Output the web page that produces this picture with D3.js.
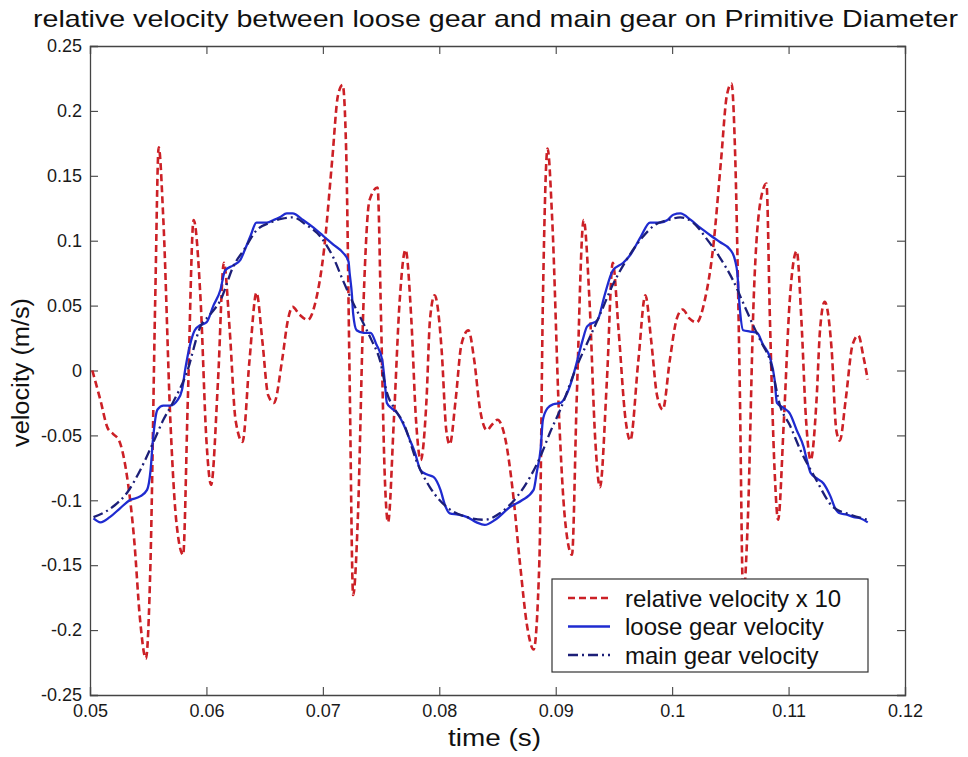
<!DOCTYPE html>
<html>
<head>
<meta charset="utf-8">
<script src="https://cdn.jsdelivr.net/npm/d3@7"></script>
<style>
  body { margin: 0; background: #fff; }
  svg { font-family: "Liberation Sans", Arial, sans-serif; }
</style>
</head>
<body>
<div id="chart"></div>
<script>

// relative velocity x 10 (red dashed)
var relTime = [0.0502,0.0509,0.0515,0.0520,0.0525,0.0531,0.0538,0.0543,0.0548,0.0552,0.0556,0.0559,0.0563,0.0569,0.0574,0.0580,0.0584,0.0589,0.0595,0.0600,0.0604,0.0610,0.0615,0.0620,0.0625,0.0631,0.0637,0.0643,0.0648,0.0653,0.0658,0.0665,0.0670,0.0674,0.0680,0.0687,0.0694,0.0701,0.0708,0.0713,0.0717,0.0720,0.0723,0.0726,0.0730,0.0735,0.0740,0.0747,0.0750,0.0753,0.0756,0.0761,0.0766,0.0771,0.0776,0.0780,0.0784,0.0789,0.0792,0.0796,0.0802,0.0806,0.0809,0.0814,0.0819,0.0825,0.0830,0.0835,0.0841,0.0845,0.0850,0.0857,0.0863,0.0869,0.0876,0.0881,0.0886,0.0889,0.0893,0.0897,0.0903,0.0908,0.0914,0.0918,0.0924,0.0929,0.0934,0.0938,0.0944,0.0949,0.0954,0.0960,0.0964,0.0971,0.0977,0.0982,0.0987,0.0992,0.0998,0.1004,0.1009,0.1015,0.1021,0.1028,0.1035,0.1042,0.1047,0.1051,0.1054,0.1058,0.1061,0.1065,0.1070,0.1076,0.1081,0.1084,0.1088,0.1091,0.1096,0.1101,0.1107,0.1111,0.1115,0.1119,0.1124,0.1127,0.1131,0.1137,0.1141,0.1144,0.1149,0.1155,0.1160,0.1164,0.1168];
var relVel = [0.000,-0.023,-0.044,-0.049,-0.054,-0.077,-0.131,-0.192,-0.222,-0.146,0.054,0.172,0.116,-0.038,-0.115,-0.142,-0.023,0.116,0.054,-0.054,-0.088,-0.007,0.083,0.031,-0.038,-0.055,0.008,0.060,0.023,-0.019,-0.025,0.008,0.039,0.049,0.043,0.039,0.054,0.093,0.162,0.212,0.220,0.170,-0.007,-0.173,-0.115,0.054,0.131,0.141,0.039,-0.077,-0.117,-0.038,0.054,0.093,0.039,-0.038,-0.069,-0.023,0.039,0.058,0.016,-0.046,-0.057,-0.023,0.020,0.031,0.008,-0.030,-0.046,-0.042,-0.038,-0.054,-0.092,-0.146,-0.200,-0.215,-0.146,0.054,0.171,0.116,-0.038,-0.115,-0.142,-0.023,0.116,0.054,-0.054,-0.090,-0.007,0.083,0.031,-0.038,-0.054,0.008,0.058,0.023,-0.019,-0.030,0.008,0.040,0.047,0.040,0.037,0.054,0.093,0.162,0.212,0.221,0.170,-0.007,-0.175,-0.115,0.054,0.131,0.144,0.039,-0.077,-0.115,-0.038,0.054,0.092,0.039,-0.038,-0.069,-0.023,0.031,0.053,0.016,-0.046,-0.054,-0.023,0.020,0.027,0.012,-0.007];

// loose gear velocity (blue solid)
var looseTime = [0.0503,0.0509,0.0517,0.0526,0.0534,0.0543,0.0549,0.0552,0.0554,0.0558,0.0563,0.0569,0.0575,0.0579,0.0582,0.0586,0.0590,0.0595,0.0600,0.0606,0.0612,0.0616,0.0623,0.0629,0.0633,0.0638,0.0643,0.0652,0.0658,0.0663,0.0669,0.0674,0.0683,0.0692,0.0700,0.0709,0.0717,0.0722,0.0723,0.0725,0.0726,0.0729,0.0735,0.0741,0.0746,0.0751,0.0753,0.0755,0.0759,0.0764,0.0769,0.0775,0.0779,0.0784,0.0789,0.0795,0.0801,0.0805,0.0809,0.0816,0.0824,0.0832,0.0839,0.0848,0.0861,0.0871,0.0881,0.0884,0.0887,0.0889,0.0893,0.0898,0.0904,0.0909,0.0914,0.0918,0.0923,0.0927,0.0936,0.0942,0.0949,0.0958,0.0964,0.0973,0.0981,0.0990,0.0996,0.1001,0.1007,0.1016,0.1024,0.1033,0.1041,0.1050,0.1054,0.1056,0.1058,0.1061,0.1067,0.1073,0.1078,0.1084,0.1088,0.1090,0.1096,0.1101,0.1107,0.1113,0.1116,0.1119,0.1124,0.1130,0.1136,0.1140,0.1144,0.1150,0.1156,0.1162,0.1168];
var looseVel = [-0.114,-0.117,-0.113,-0.106,-0.100,-0.097,-0.092,-0.077,-0.054,-0.030,-0.027,-0.027,-0.023,-0.015,0.002,0.020,0.031,0.035,0.037,0.050,0.062,0.077,0.081,0.085,0.093,0.104,0.114,0.114,0.116,0.118,0.121,0.121,0.116,0.110,0.104,0.097,0.091,0.084,0.075,0.058,0.044,0.031,0.029,0.029,0.020,0.008,-0.007,-0.025,-0.029,-0.033,-0.041,-0.054,-0.063,-0.077,-0.080,-0.082,-0.092,-0.104,-0.110,-0.111,-0.113,-0.117,-0.119,-0.115,-0.105,-0.100,-0.092,-0.077,-0.061,-0.038,-0.029,-0.026,-0.025,-0.019,-0.007,0.006,0.023,0.034,0.039,0.058,0.077,0.083,0.089,0.103,0.114,0.114,0.116,0.120,0.121,0.116,0.110,0.104,0.099,0.093,0.085,0.075,0.049,0.031,0.030,0.029,0.020,0.010,-0.007,-0.025,-0.029,-0.033,-0.046,-0.059,-0.070,-0.079,-0.083,-0.087,-0.097,-0.106,-0.110,-0.111,-0.113,-0.114,-0.117];

// main gear velocity (dark blue dash-dot)
var mainTime = [0.0503,0.0513,0.0521,0.0532,0.0543,0.0554,0.0563,0.0571,0.0583,0.0595,0.0603,0.0612,0.0623,0.0633,0.0643,0.0655,0.0665,0.0674,0.0686,0.0698,0.0709,0.0717,0.0726,0.0735,0.0742,0.0749,0.0755,0.0762,0.0769,0.0781,0.0792,0.0809,0.0824,0.0839,0.0852,0.0867,0.0878,0.0887,0.0895,0.0904,0.0918,0.0930,0.0938,0.0949,0.0960,0.0973,0.0985,0.0997,0.1007,0.1018,0.1030,0.1041,0.1052,0.1063,0.1070,0.1077,0.1084,0.1093,0.1101,0.1110,0.1123,0.1138,0.1153,0.1168];
var mainVel = [-0.113,-0.109,-0.104,-0.094,-0.077,-0.056,-0.038,-0.025,-0.002,0.034,0.043,0.054,0.080,0.094,0.108,0.114,0.117,0.118,0.112,0.103,0.087,0.070,0.052,0.036,0.023,0.008,-0.017,-0.030,-0.040,-0.071,-0.090,-0.107,-0.113,-0.115,-0.110,-0.097,-0.082,-0.066,-0.048,-0.030,0.003,0.027,0.043,0.066,0.084,0.101,0.112,0.116,0.118,0.114,0.101,0.087,0.070,0.048,0.034,0.021,0.008,-0.028,-0.042,-0.061,-0.083,-0.105,-0.111,-0.115];

var xTicks = [0.05, 0.06, 0.07, 0.08, 0.09, 0.1, 0.11, 0.12];
var yTicks = [-0.25, -0.2, -0.15, -0.1, -0.05, 0, 0.05, 0.1, 0.15, 0.2, 0.25];

var seriesNames = ["relative velocity x 10", "loose gear velocity", "main gear velocity"];
var seriesColors = ["#cc2026", "#1f2bd0", "#1c1f78"];
var seriesDash = ["7,4", null, "10,4,2,4"];

function drawChart() {

	var width = 968, height = 757;
	var margin = {left: 90, right: 63, top: 46, bottom: 62};

	var svg = d3.select("#chart")
		.append("svg")
		.attr("width", width)
		.attr("height", height);

	var x = d3.scaleLinear()
		.domain([0.05, 0.12])
		.range([margin.left, width - margin.right]);

	var y = d3.scaleLinear()
		.domain([-0.25, 0.25])
		.range([height - margin.bottom, margin.top]);

	var fmt = function(d) { return String(+d.toFixed(2)); };

	// axes, ticks pointing inward
	var bottom = svg.append("g")
		.attr("transform", "translate(0," + y(-0.25) + ")")
		.call(d3.axisBottom(x).tickValues(xTicks).tickFormat(fmt).tickSize(-8).tickPadding(9));
	var left = svg.append("g")
		.attr("transform", "translate(" + x(0.05) + ",0)")
		.call(d3.axisLeft(y).tickValues(yTicks).tickFormat(fmt).tickSize(-8).tickPadding(8));
	var top = svg.append("g")
		.attr("transform", "translate(0," + y(0.25) + ")")
		.call(d3.axisTop(x).tickValues(xTicks).tickFormat("").tickSize(-8));
	var right = svg.append("g")
		.attr("transform", "translate(" + x(0.12) + ",0)")
		.call(d3.axisRight(y).tickValues(yTicks).tickFormat("").tickSize(-8));

	[bottom, left, top, right].forEach(function(g) {
		g.select(".domain").attr("stroke", "#444").attr("stroke-width", 1.3);
		g.selectAll(".tick line").attr("stroke", "#444").attr("stroke-width", 1.1);
		g.selectAll(".tick text")
			.attr("fill", "#1a1a1a")
			.style("font-size", "18px")
			.style("font-family", "'Liberation Sans', Arial, sans-serif");
	});

	// series lines
	var series = [
		{t: relTime, v: relVel},
		{t: looseTime, v: looseVel},
		{t: mainTime, v: mainVel}
	];

	var line = d3.line()
		.x(function(d) { return x(d[0]); })
		.y(function(d) { return y(d[1]); })
		.curve(d3.curveMonotoneX);

	series.forEach(function(s, i) {
		var pts = s.t.map(function(t, k) { return [t, s.v[k]]; });
		svg.append("path")
			.datum(pts)
			.attr("d", line)
			.attr("fill", "none")
			.attr("stroke", seriesColors[i])
			.attr("stroke-width", i == 0 ? 2.6 : 2.3)
			.attr("stroke-dasharray", seriesDash[i]);
	});

	// title and axis labels
	svg.append("text")
		.attr("x", 33)
		.attr("y", 27)
		.attr("fill", "#111")
		.attr("textLength", 925)
		.attr("lengthAdjust", "spacingAndGlyphs")
		.style("font-size", "24px")
		.text("relative velocity between loose gear and main gear on Primitive Diameter");

	svg.append("text")
		.attr("x", 448)
		.attr("y", 746)
		.attr("fill", "#111")
		.attr("textLength", 93)
		.attr("lengthAdjust", "spacingAndGlyphs")
		.style("font-size", "23px")
		.text("time (s)");

	svg.append("text")
		.attr("transform", "translate(29,447) rotate(-90)")
		.attr("fill", "#111")
		.attr("textLength", 149)
		.attr("lengthAdjust", "spacingAndGlyphs")
		.style("font-size", "23px")
		.text("velocity (m/s)");

	// legend
	var legend = svg.append("g").attr("transform", "translate(552,579)");
	legend.append("rect")
		.attr("width", 316)
		.attr("height", 93)
		.attr("fill", "#fff")
		.attr("stroke", "#333")
		.attr("stroke-width", 1.2);

	seriesNames.forEach(function(name, i) {
		var ly = 19 + i * 28.5;
		legend.append("line")
			.attr("x1", 16).attr("x2", 58)
			.attr("y1", ly).attr("y2", ly)
			.attr("stroke", seriesColors[i])
			.attr("stroke-width", 2.3)
			.attr("stroke-dasharray", seriesDash[i]);
		legend.append("text")
			.attr("x", 73)
			.attr("y", ly + 8.5)
			.attr("fill", "#111")
			.style("font-size", "24px")
			.text(name);
	});
}

drawChart();
</script>
</body>
</html>
